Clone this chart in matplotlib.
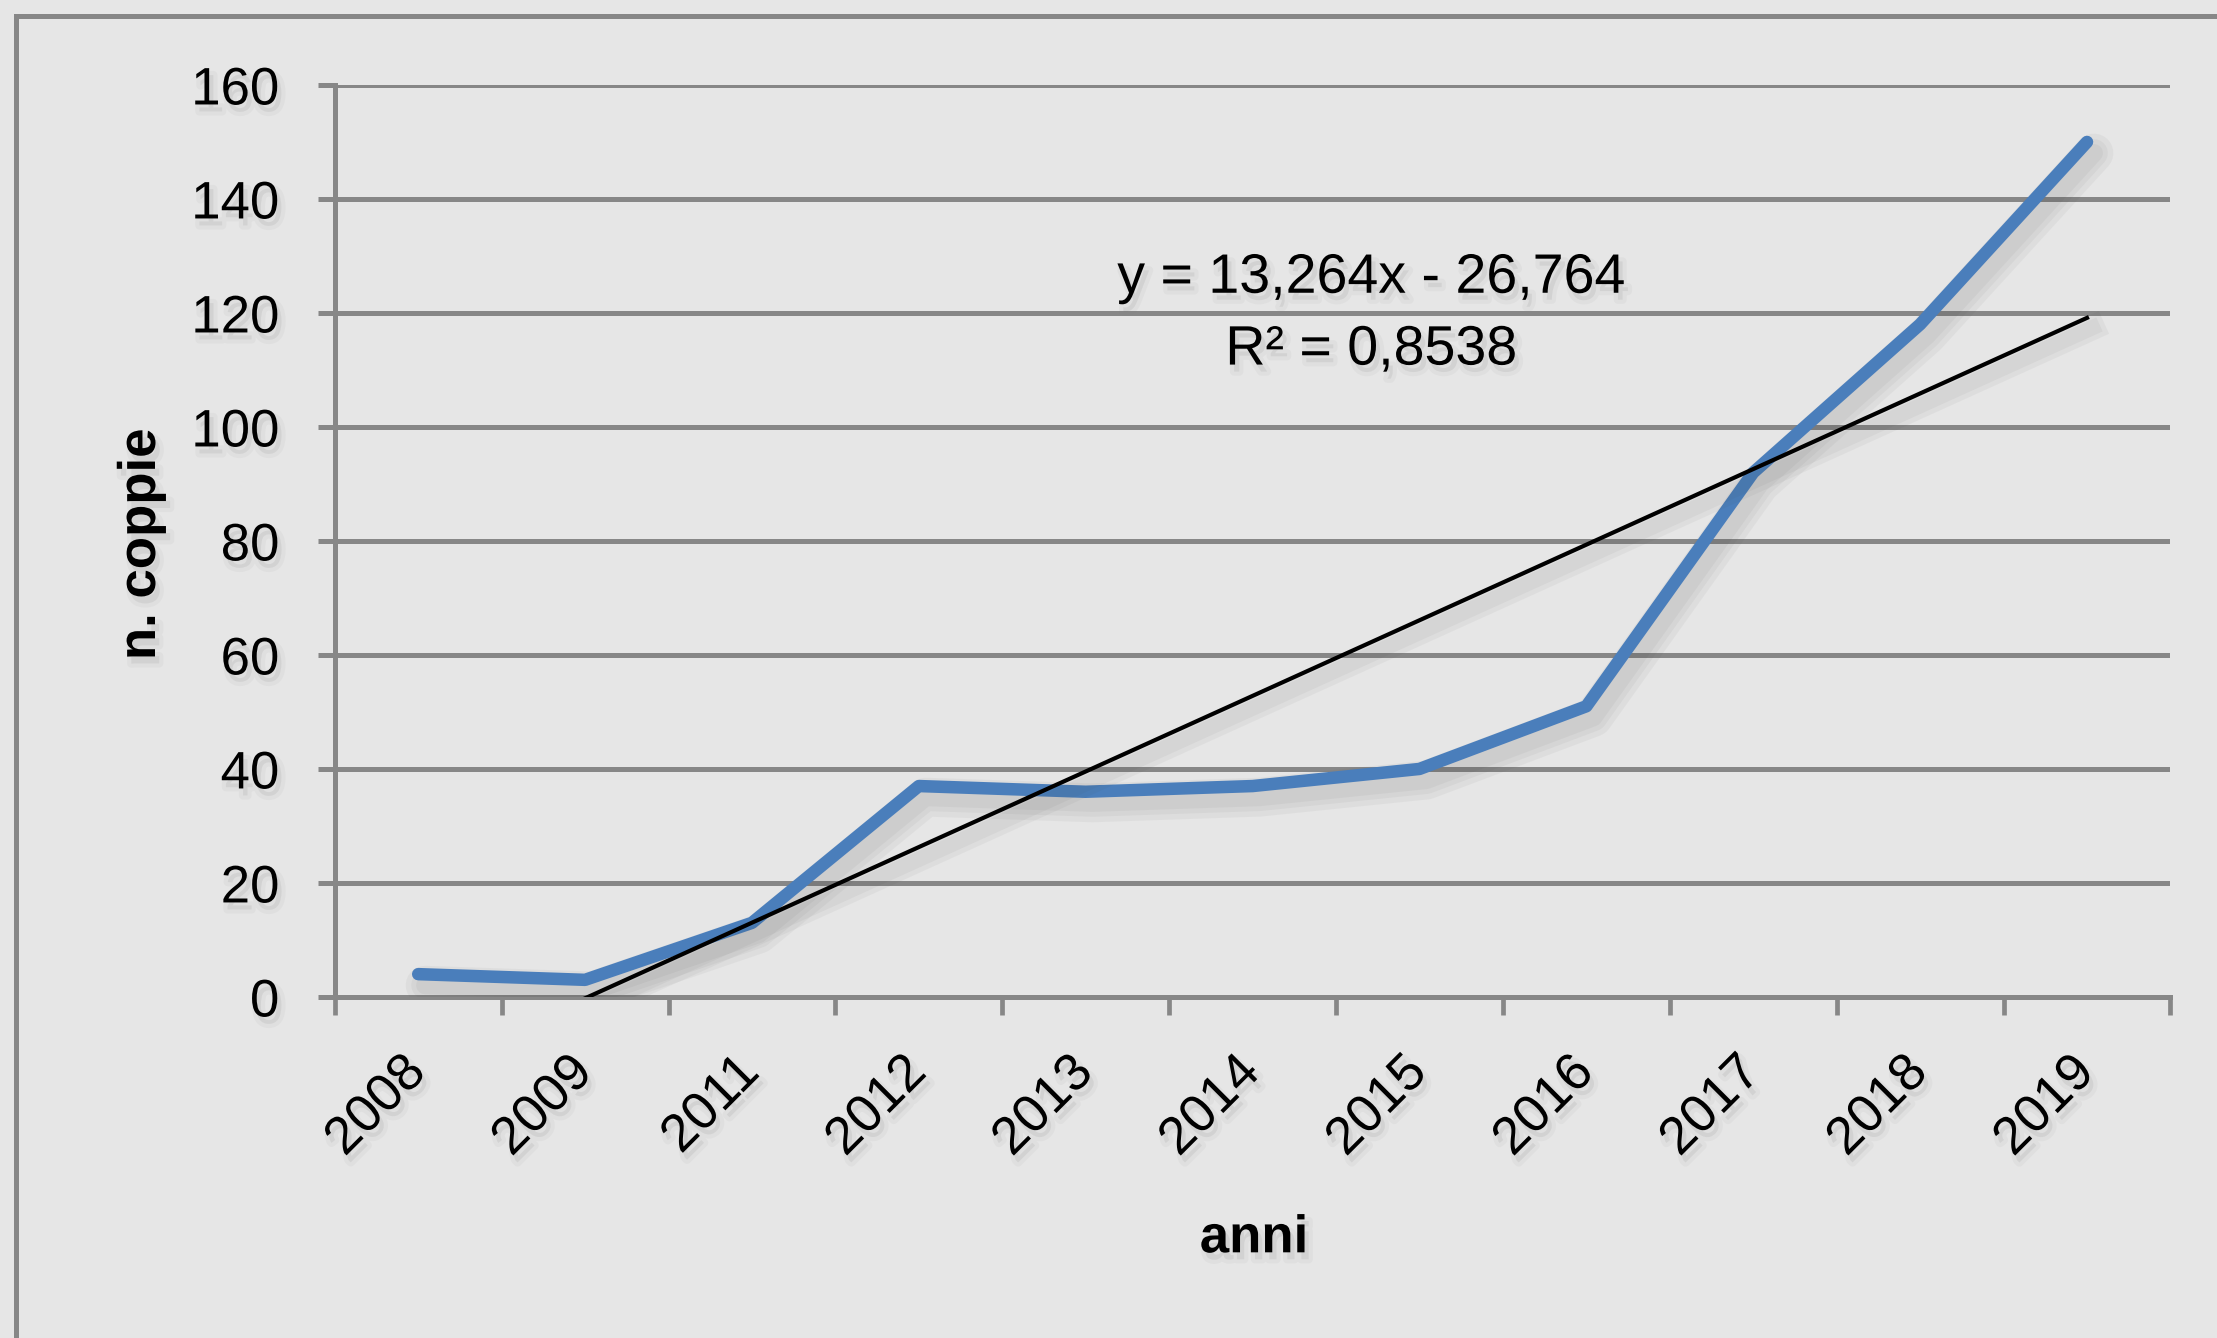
import numpy as np
import matplotlib
matplotlib.use("Agg")
import matplotlib.pyplot as plt
import matplotlib.patheffects as pe
import matplotlib.transforms as mtransforms
from matplotlib.patches import Rectangle

# dati
anni = ["2008", "2009", "2011", "2012", "2013", "2014", "2015", "2016", "2017", "2018", "2019"]
coppie = [4, 3, 13, 37, 36, 37, 40, 51, 92, 118, 150]
trend_slope = 13.264
trend_intercept = -26.764
eq_text = "y = 13,264x - 26,764"
r2_text = "R² = 0,8538"

plt.rcParams["font.family"] = ["Liberation Sans", "DejaVu Sans"]

bg = "#e6e6e6"
grigio = "#878787"


def ombra_morbida(dx, dy, larghezze, alpha):
    # ombra sfumata alla Excel: piu' tratti larghi e trasparenti
    eff = [pe.Stroke(offset=(dx, dy), linewidth=w, foreground="#444444", alpha=alpha) for w in larghezze]
    return eff + [pe.Normal()]


ombra_testo = [pe.Stroke(offset=(3, -5), linewidth=6, foreground="#777777", alpha=0.06), pe.Normal()]

fig = plt.figure(figsize=(22.17, 13.38), dpi=100, facecolor=bg)
ax = fig.add_axes([0.151, 0.2549, 0.828, 0.6816])
ax.set_facecolor(bg)

x = np.arange(len(anni))
ax.plot(x, coppie, color="#4a7ebb", lw=9, solid_joinstyle="round", solid_capstyle="round",
        path_effects=ombra_morbida(5, -8, [28, 20, 13], 0.05), zorder=3)

# linea di tendenza (x di Excel parte da 1)
xt = np.array([x[0], x[-1]])
yt = trend_slope * (xt + 1) + trend_intercept
ax.plot(xt, yt, color="black", lw=3, path_effects=ombra_morbida(4, -7, [18, 11], 0.05), zorder=4)

ax.set_xlim(-0.5, len(anni) - 0.5)
ax.set_ylim(0, 160)
ax.set_yticks(range(0, 161, 20))
ax.yaxis.grid(True, color=grigio, lw=3.6)
ax.set_axisbelow(True)

for s in ["top", "right"]:
    ax.spines[s].set_visible(False)
for s in ["left", "bottom"]:
    ax.spines[s].set_color(grigio)
    ax.spines[s].set_linewidth(3.6)

# tacche tra le categorie, etichette al centro
ax.set_xticks(np.arange(-0.5, len(anni), 1.0))
ax.set_xticklabels([])
ax.set_xticks(x, minor=True)
ax.set_xticklabels(anni, minor=True, rotation=45, ha="right", fontsize=38)
ax.tick_params(axis="x", which="major", length=13, width=3.4, color=grigio)
ax.tick_params(axis="x", which="minor", length=0, pad=36)
ax.tick_params(axis="y", length=12, width=3.6, color=grigio, labelsize=38, pad=28)

sposta = mtransforms.ScaledTranslation(0.17, 0, fig.dpi_scale_trans)
for lab in ax.get_xticklabels(minor=True):
    lab.set_transform(lab.get_transform() + sposta)
    lab.set_path_effects(ombra_testo)
for lab in ax.get_yticklabels():
    lab.set_path_effects(ombra_testo)

ax.text(5.71, 126.0, eq_text, ha="center", va="center", fontsize=40, path_effects=ombra_testo)
ax.text(5.71, 113.4, r2_text, ha="center", va="center", fontsize=40, path_effects=ombra_testo)

fig.text(0.0636, 0.593, "n. coppie", rotation=90, ha="center", va="center", fontsize=38,
         fontweight="bold", path_effects=ombra_testo)
fig.text(0.5656, 0.0745, "anni", ha="center", va="center", fontsize=38, fontweight="bold",
         path_effects=ombra_testo)

# cornice esterna (esce a destra e in basso)
fig.patches.append(Rectangle((16 / 2217, -0.2), 2.0, 1.2 - 16 / 1338, transform=fig.transFigure,
                             fill=False, edgecolor=grigio, lw=3.6))

fig.savefig("out.png", dpi=100, facecolor=bg)
